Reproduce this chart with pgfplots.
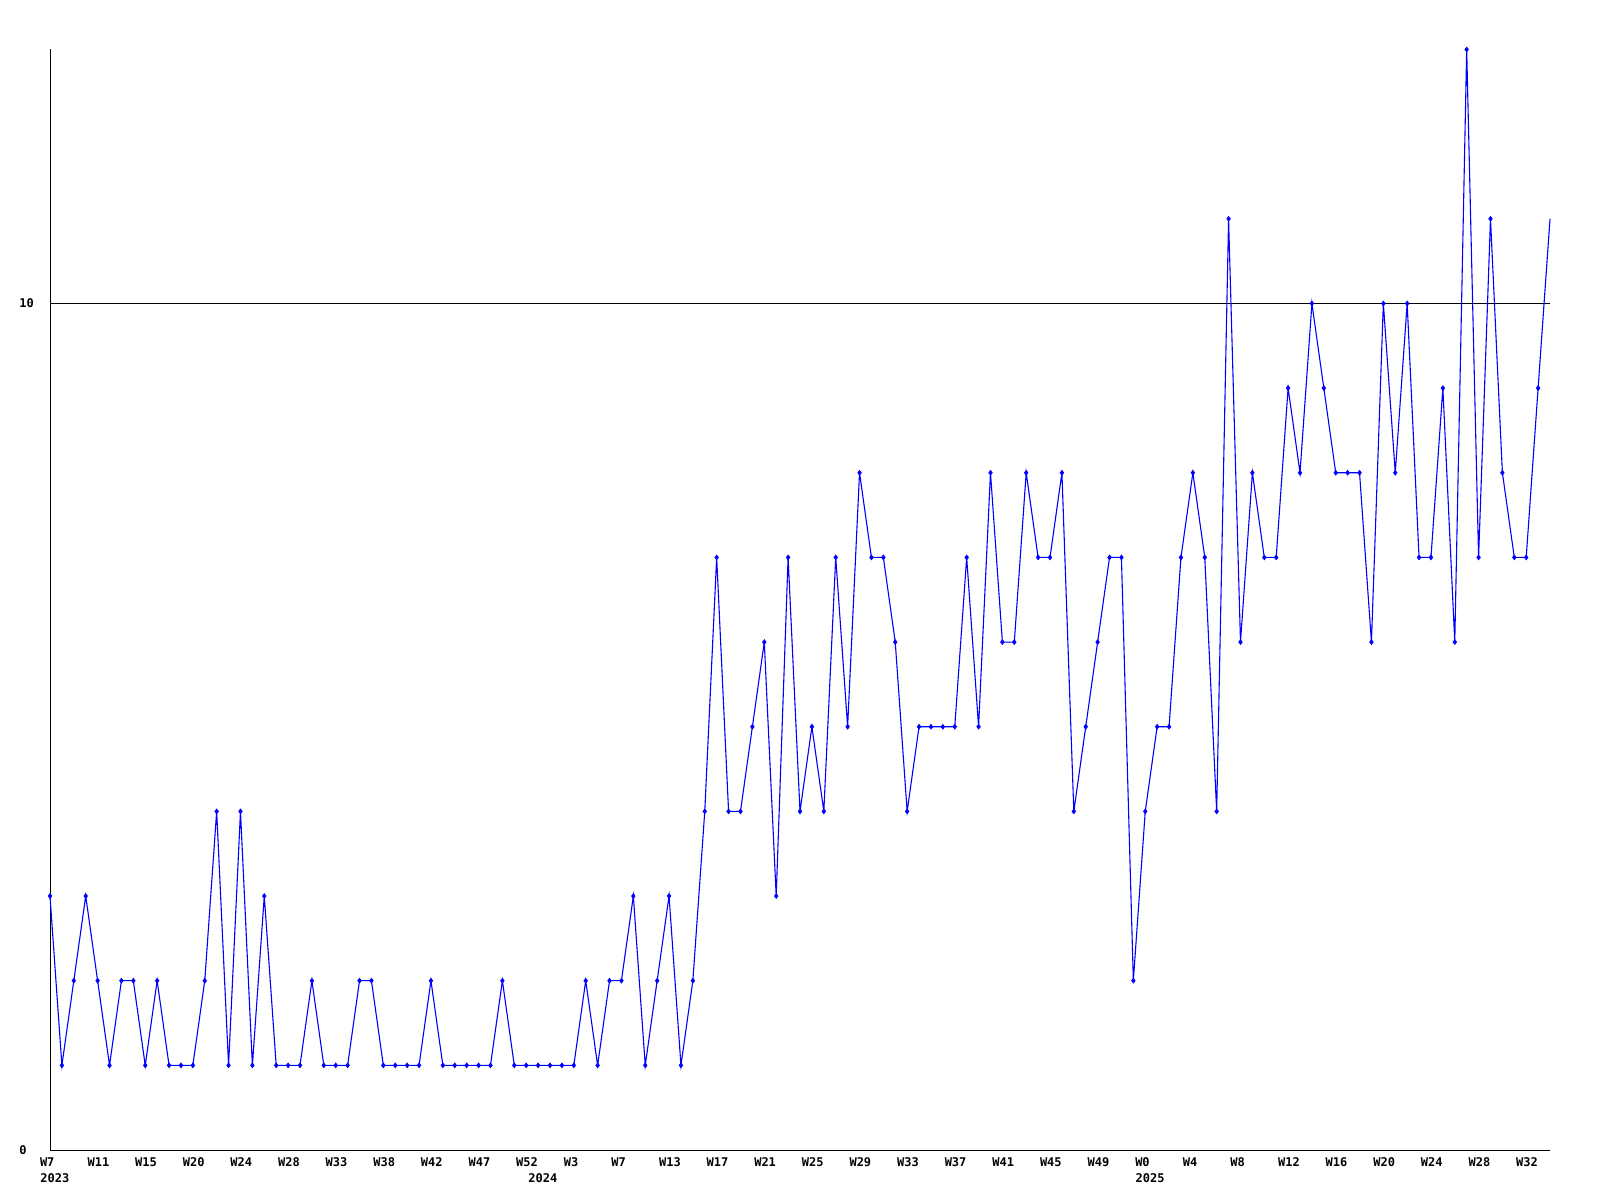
\documentclass[border=0pt]{standalone}
\usepackage{fontspec}
\usepackage{pgfplots}
\usepackage{pgfplotstable}
\pgfplotsset{compat=1.18}
\newfontfamily\chartfont{DejaVu Sans Mono}
\definecolor{lineblue}{RGB}{0,0,255}
\pgfplotstableread{
x y
0 3
1 1
2 2
3 3
4 2
5 1
6 2
7 2
8 1
9 2
10 1
11 1
12 1
13 2
14 4
15 1
16 4
17 1
18 3
19 1
20 1
21 1
22 2
23 1
24 1
25 1
26 2
27 2
28 1
29 1
30 1
31 1
32 2
33 1
34 1
35 1
36 1
37 1
38 2
39 1
40 1
41 1
42 1
43 1
44 1
45 2
46 1
47 2
48 2
49 3
50 1
51 2
52 3
53 1
54 2
55 4
56 7
57 4
58 4
59 5
60 6
61 3
62 7
63 4
64 5
65 4
66 7
67 5
68 8
69 7
70 7
71 6
72 4
73 5
74 5
75 5
76 5
77 7
78 5
79 8
80 6
81 6
82 8
83 7
84 7
85 8
86 4
87 5
88 6
89 7
90 7
91 2
92 4
93 5
94 5
95 7
96 8
97 7
98 4
99 11
100 6
101 8
102 7
103 7
104 9
105 8
106 10
107 9
108 8
109 8
110 8
111 6
112 10
113 8
114 10
115 7
116 7
117 9
118 6
119 13
120 7
121 11
122 8
123 7
124 7
125 9
126 11
}\datatable

\begin{document}
\begin{tikzpicture}
\path[use as bounding box] (0,0) rectangle (800pt,600pt);
\begin{axis}[
  at={(25pt,25pt)}, anchor=south west, scale only axis,
  width=750pt, height=550.25pt,
  xmin=0, xmax=126, ymin=0, ymax=13,
  axis x line*=bottom, axis y line*=left,
  axis line style={black, line width=0.5pt},
  xtick={0,4,...,124},
  xticklabels={W7,W11,W15,W20,W24,W28,W33,W38,W42,W47,W52,W3,W7,W13,W17,W21,W25,W29,W33,W37,W41,W45,W49,W0,W4,W8,W12,W16,W20,W24,W28,W32},
  ytick={0,10}, yticklabels={0,10},
  major tick length=0pt,
  ymajorgrids, grid style={black, line width=0.5pt},
  tick label style={font=\chartfont\bfseries\fontsize{6}{6}\selectfont, inner sep=0pt, outer sep=0pt},
  xticklabel style={anchor=north west, xshift=-5pt, yshift=-3.7pt},
  yticklabel style={anchor=west, xshift=-15.35pt},
  clip=false,
]
\addplot[lineblue, line width=0.55pt, mark=none] table[x=x, y=y] {\datatable};
\addplot[lineblue, only marks, mark=diamond*, mark size=1.15pt, skip coords between index={126}{127}] table[x=x, y=y] {\datatable};
\node[font=\chartfont\bfseries\fontsize{6}{6}\selectfont, inner sep=0pt, anchor=north west, xshift=-5pt, yshift=-11.6pt] at (axis cs:0,0) {2023};
\node[font=\chartfont\bfseries\fontsize{6}{6}\selectfont, inner sep=0pt, anchor=north west, yshift=-11.6pt] at (axis cs:40.15,0) {2024};
\node[font=\chartfont\bfseries\fontsize{6}{6}\selectfont, inner sep=0pt, anchor=north west, xshift=-5pt, yshift=-11.6pt] at (axis cs:92,0) {2025};
\end{axis}
\end{tikzpicture}
\end{document}
